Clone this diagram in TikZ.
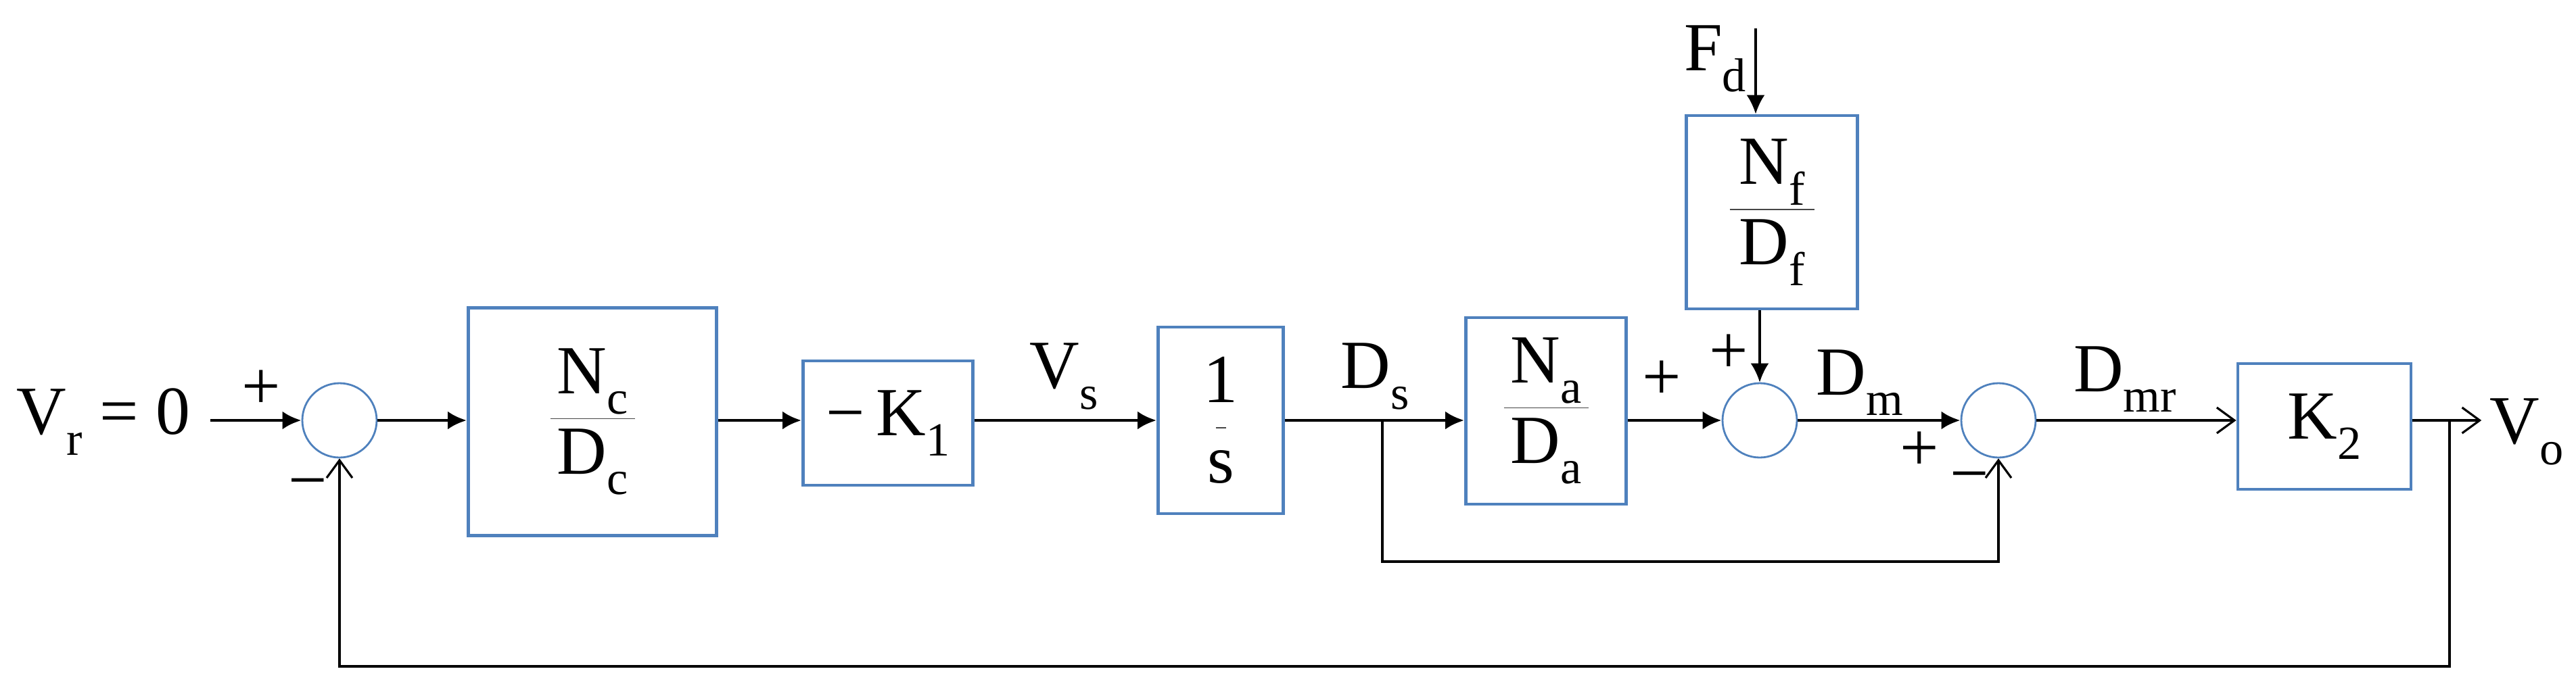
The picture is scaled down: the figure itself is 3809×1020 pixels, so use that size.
\documentclass[tikz,border=0pt]{standalone}
\usepackage{fontspec}
\setmainfont{Liberation Serif}
\usetikzlibrary{arrows.meta}
\definecolor{boxblue}{RGB}{79,129,189}
\definecolor{bargray}{RGB}{70,70,70}
\newcommand{\subs}[1]{\raisebox{-0.3em}{\fontsize{20}{20}\selectfont #1}}
\newcommand{\blkfrac}[3][12.5mm]{{\color{bargray}$\displaystyle\frac{\makebox[#1]{\color{black}#2}}{\makebox[#1]{\color{black}#3}}$}}

\begin{document}
\begin{tikzpicture}[x=0.1mm,y=-0.1mm,font=\fontsize{29}{34}\selectfont,
    blk/.style={draw=boxblue,line width=1.4pt,inner sep=0pt},
    sum/.style={circle,draw=boxblue,line width=0.8pt,minimum size=11mm,inner sep=0pt},
    fwd/.style={line width=1.4pt,-{Latex[length=2.8mm,width=2.7mm]}},
    sig/.style={line width=0.9pt,-{Latex[length=2.8mm,width=2.7mm]}},
    obar/.style={line width=0.9pt,-{Straight Barb[length=2.6mm,width=3.8mm]}}]
  \useasboundingbox (0,0) rectangle (3809,1020);
  \begin{scope}[every node/.style={blk}]
    \node (c) [minimum width=36.7mm,minimum height=33.7mm] at (876,624) {\blkfrac{N\subs{c}}{D\subs{c}}};
    \node (k1) [minimum width=25.1mm,minimum height=18.4mm] at (1313,626) {−\,K\subs{1}};
    \node (i) [minimum width=18.5mm,minimum height=27.6mm] at (1805,622) {\blkfrac[1.5mm]{1}{s}};
    \node (a) [minimum width=23.7mm,minimum height=27.6mm] at (2286,608) {\blkfrac{N\subs{a}}{D\subs{a}}};
    \node (f) [minimum width=25.3mm,minimum height=28.6mm] at (2620,314) {\blkfrac{N\subs{f}}{D\subs{f}}};
    \node (k2) [minimum width=25.6mm,minimum height=18.6mm] at (3437,631) {K\subs{2}};
  \end{scope}
  \begin{scope}[every node/.style={sum}]
    \node (s1) at (502,622) {};
    \node (s2) at (2602,622) {};
    \node (s3) at (2955,622) {};
  \end{scope}
  \node (vr) at (153,624) {V\subs{r} = 0};
  \node (vs) at (1573,557) {V\subs{s}};
  \node (ds) at (2033,557) {D\subs{s}};
  \node (dm) at (2750,566) {D\subs{m}};
  \node (dmr) at (3142,561) {D\subs{mr}};
  \node (fd) at (2536,87) {F\subs{d}};
  \node (vo) at (3736,639) {V\subs{o}};
  \node (p1) at (386,577) {+};
  \node (m1) at (455,726) {−};
  \node (p2) at (2457,563) {+};
  \node (p3) at (2556,524) {+};
  \node (p4) at (2838,668) {+};
  \node (m3) at (2912,716) {−};
  \coordinate (vin) at (311,622);
  \coordinate (fd0) at (2596,42);
  \coordinate (dsb) at (2044,622);
  \coordinate (dsl) at (2044,831);
  \coordinate (vob) at (3622,622);
  \coordinate (vol) at (3622,986);
  \draw[fwd] (vin) -- (s1);
  \draw[fwd] (s1) -- (c.west |- s1);
  \draw[fwd] (c.east |- s1) -- (k1.west |- s1);
  \draw[fwd] (k1.east |- s1) -- (i.west |- s1);
  \draw[fwd] (i.east |- s1) -- (a.west |- s1);
  \draw[fwd] (a.east |- s2) -- (s2);
  \draw[fwd] (s2) -- (s3);
  \draw[sig] (fd0) -- (fd0 |- f.north);
  \draw[sig] (f.south -| s2) -- (s2);
  \draw[obar] (s3) -- (k2.west |- s3);
  \draw[obar] (k2.east |- s3) -- (vo.west |- s3);
  \draw[obar] (vob) -- (vol) -| (s1.south);
  \draw[obar] (dsb) -- (dsl) -| (s3.south);
\end{tikzpicture}
\end{document}
